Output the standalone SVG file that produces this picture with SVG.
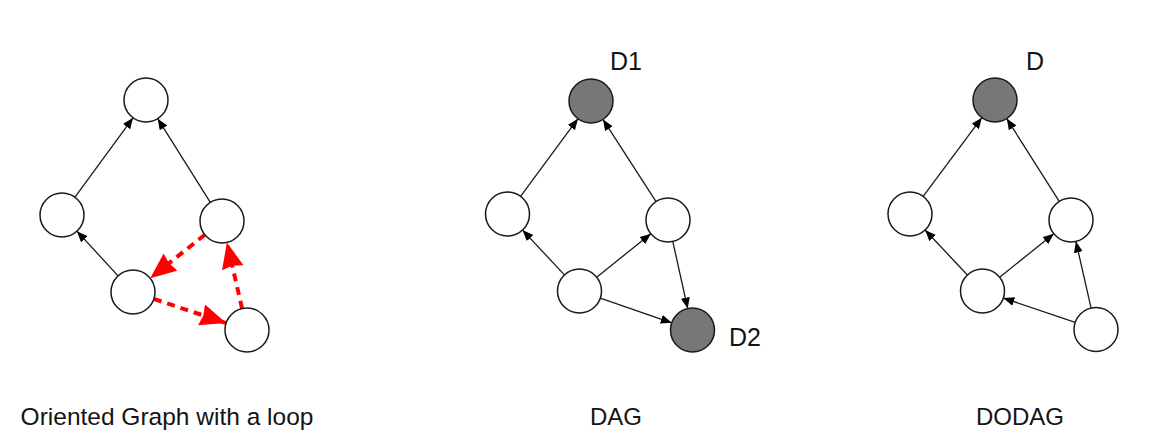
<svg xmlns="http://www.w3.org/2000/svg" width="1153" height="436" viewBox="0 0 1153 436">
<defs>
<style>
.n{fill:#ffffff;stroke:#1a1a1a;stroke-width:1.5}
.d{fill:#777777;stroke:#1a1a1a;stroke-width:1.5}
.e{stroke:#1a1a1a;stroke-width:1.3;fill:none;marker-end:url(#ab)}
.r{stroke:#ff0000;stroke-width:4;fill:none;stroke-dasharray:8 6;marker-end:url(#ar)}
.t{font-family:"Liberation Sans",Arial,Helvetica,sans-serif;fill:#141414}
.lb{font-size:24px;text-anchor:middle}
.dl{font-size:25px}
</style>
<marker id="ab" markerUnits="userSpaceOnUse" markerWidth="13" markerHeight="11" refX="11" refY="4.5" orient="auto"><path d="M0,0 L11,4.5 L0,9 z" fill="#000"/></marker>
<marker id="ar" markerUnits="userSpaceOnUse" markerWidth="30" markerHeight="24" refX="26" refY="11" orient="auto"><path d="M0,0 L26,11 L0,22 L2,11 z" fill="#ff0000"/></marker>
</defs>
<rect width="1153" height="436" fill="#ffffff"/>
<g id="connectors">
<line class="e" x1="74.98" y1="197.23" x2="133.02" y2="117.77"/>
<line class="e" x1="210.3" y1="202.37" x2="157.7" y2="118.63"/>
<line class="e" x1="118.08" y1="275.82" x2="76.92" y2="231.18"/>
<line class="r" x1="204.8" y1="234.72" x2="150.2" y2="278.28"/>
<line class="r" x1="153.87" y1="298.96" x2="226.13" y2="323.04"/>
<line class="r" x1="242.08" y1="308.56" x2="226.92" y2="242.44"/>
<line class="e" x1="520.57" y1="196.31" x2="577.93" y2="118.69"/>
<line class="e" x1="656.05" y1="201.53" x2="602.95" y2="119.47"/>
<line class="e" x1="564.47" y1="274.93" x2="522.53" y2="230.07"/>
<line class="e" x1="596.66" y1="277.23" x2="650.84" y2="233.77"/>
<line class="e" x1="600.3" y1="298.18" x2="671.7" y2="322.82"/>
<line class="e" x1="672.78" y1="241.47" x2="687.72" y2="308.53"/>
<line class="e" x1="923.15" y1="196.36" x2="981.85" y2="117.64"/>
<line class="e" x1="1059.23" y1="201.41" x2="1006.77" y2="118.59"/>
<line class="e" x1="967.42" y1="274.98" x2="925.08" y2="230.02"/>
<line class="e" x1="999.66" y1="277.23" x2="1053.84" y2="233.77"/>
<line class="e" x1="1075.17" y1="322.43" x2="1003.33" y2="298.07"/>
<line class="e" x1="1091.1" y1="308.05" x2="1075.9" y2="241.45"/>
</g>
<g id="g1-top"><circle class="n" cx="146" cy="100" r="22"/></g>
<g id="g1-left"><circle class="n" cx="62" cy="215" r="22"/></g>
<g id="g1-right"><circle class="n" cx="222" cy="221" r="22"/></g>
<g id="g1-bottom"><circle class="n" cx="133" cy="292" r="22"/></g>
<g id="g1-bottomright"><circle class="n" cx="247" cy="330" r="22"/></g>
<g id="g1-label"><text class="t lb" x="167" y="425" style="font-size:24.5px">Oriented Graph with a loop</text></g>
<g id="g2-d1"><circle class="d" cx="591" cy="101" r="22"/><text class="t dl" x="610" y="70">D1</text></g>
<g id="g2-left"><circle class="n" cx="507.5" cy="214" r="22"/></g>
<g id="g2-right"><circle class="n" cx="668" cy="220" r="22"/></g>
<g id="g2-bottom"><circle class="n" cx="579.5" cy="291" r="22"/></g>
<g id="g2-d2"><circle class="d" cx="692.5" cy="330" r="22"/><text class="t dl" x="729" y="346">D2</text></g>
<g id="g2-label"><text class="t lb" x="616" y="425">DAG</text></g>
<g id="g3-d"><circle class="d" cx="995" cy="100" r="22"/><text class="t dl" x="1026" y="70">D</text></g>
<g id="g3-left"><circle class="n" cx="910" cy="214" r="22"/></g>
<g id="g3-right"><circle class="n" cx="1071" cy="220" r="22"/></g>
<g id="g3-bottom"><circle class="n" cx="982.5" cy="291" r="22"/></g>
<g id="g3-bottomright"><circle class="n" cx="1096" cy="329.5" r="22"/></g>
<g id="g3-label"><text class="t lb" x="1020" y="425">DODAG</text></g>
</svg>
